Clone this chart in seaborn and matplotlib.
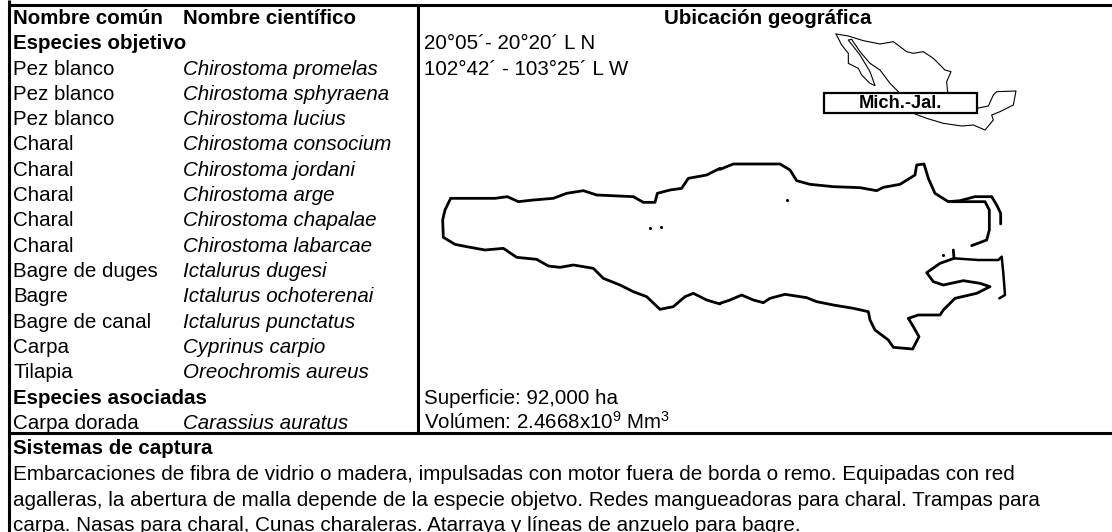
import matplotlib
matplotlib.use("Agg")
import matplotlib.pyplot as plt
from matplotlib.patches import Rectangle
import seaborn as sns

sns.set_theme(style="white")
plt.rcParams["font.family"] = ["Liberation Sans", "DejaVu Sans"]
plt.rcParams["mathtext.default"] = "regular"
plt.rcParams["text.color"] = "black"

common_names = ["Pez blanco", "Pez blanco", "Pez blanco", "Charal", "Charal", "Charal", "Charal", "Charal",
                "Bagre de duges", "Bagre", "Bagre de canal", "Carpa", "Tilapia"]
scientific_names = ["Chirostoma promelas", "Chirostoma sphyraena", "Chirostoma lucius", "Chirostoma consocium",
                    "Chirostoma jordani", "Chirostoma arge", "Chirostoma chapalae", "Chirostoma labarcae",
                    "Ictalurus dugesi", "Ictalurus ochoterenai", "Ictalurus punctatus", "Cyprinus carpio",
                    "Oreochromis aureus"]
assoc_common = ["Carpa dorada"]
assoc_scientific = ["Carassius auratus"]
capture_lines = ["Embarcaciones de fibra de vidrio o madera, impulsadas con motor fuera de borda o remo. Equipadas con red",
                 "agalleras, la abertura de malla depende de la especie objetvo. Redes mangueadoras para charal. Trampas para",
                 "carpa. Nasas para charal, Cunas charaleras. Atarraya y líneas de anzuelo para bagre."]

# Lake outline (pixel coordinates of the map)
z1_upper = [(92,145),(140,145),(225,145),(262,140),(295,155),(340,150),(400,145),(440,130),(490,122),(530,135),
            (640,140),(670,157),(705,157),(712,130),(750,120),(785,115),(805,85),(860,75),(900,55)]
z2_upper = [(0,58),(40,42),(130,42),(180,42),(210,60),(230,92),(270,103),(340,110),(420,113),(470,122),(490,112),
            (540,103),(585,75),(590,45),(612,42),(625,85),(645,130),(685,155),(720,152),(765,140),(815,140),
            (830,165),(842,190),(842,222)]
z2_branch = [(685,155),(795,155),(808,180),(808,240),(800,270),(755,287)]
z2_lower = [(700,300),(702,325),(660,340),(620,368),(640,395),(670,405),(730,392),(780,400),(810,410),(770,430),
            (705,445),(670,480),(660,495),(595,495),(565,505),(580,530),(597,560),(578,597),(520,592),(505,570),
            (465,540),(450,510),(445,485),(400,475),(340,465),(290,455),(260,443),(195,433),(150,445),(130,458),
            (100,450),(65,435),(30,450),(0,460)]
z2_right = [(702,325),(775,330),(835,330),(845,320),(850,370),(855,435),(838,445)]
z1_lower = [(900,462),(860,450),(820,430),(795,440),(760,470),(720,478),(680,440),(640,425),(600,405),(550,385),
            (520,355),(460,345),(420,352),(385,348),(350,328),(290,322),(250,295),(195,300),(140,290),(105,283),
            (70,262),(68,210),(75,180),(92,145)]
z1_specks = [(690,235),(722,232)]
z2_specks = [(200,150),(670,315)]

# Inset map of Mexico
mx_north = [(168,42),(205,48),(250,62),(300,72),(340,65),(380,95),(400,100),(430,95),(460,115),(495,150),(513,155),
            (500,185),(503,218)]
mx_south = [(590,265),(625,258),(640,225),(650,215),(708,213),(700,255),(660,275),(635,285),(640,300),(615,330),
            (580,315),(545,318),(490,310),(440,295),(405,282)]
mx_baja = [(168,42),(185,75),(205,100),(205,130),(235,145),(245,165),(270,190),(285,197),(270,155),(240,105),
           (205,60),(215,58),(240,95),(270,130),(300,150),(330,190),(358,218)]


def conv1(p):
    return [420 + x / 3 for x, _ in p], [150 + y / 3 for _, y in p]


def conv2(p):
    return [720 + x / 3 for x, _ in p], [150 + y / 3 for _, y in p]


def conv3(p):
    return [780 + x / 3 for x, _ in p], [20 + y / 3 for _, y in p]


fig = plt.figure(figsize=(11.12, 5.32), dpi=100)
ax = fig.add_axes([0, 0, 1, 1])
ax.set_xlim(0, 1112)
ax.set_ylim(532, 0)
ax.axis("off")

FS = 14.8
COL1, COL2, COL3 = 13, 183, 424
ROW0, DY = 24, 25.3


def row(i):
    return ROW0 + DY * i


def t(x, i, s, **kw):
    ax.text(x, row(i), s, fontsize=FS, va="baseline", color="black", **kw)


t(COL1, 0, "Nombre común", fontweight="bold")
t(COL2, 0, "Nombre científico", fontweight="bold")
ax.text(768, row(0), "Ubicación geográfica", fontsize=FS, fontweight="bold", ha="center", va="baseline", color="black")
t(COL1, 1, "Especies objetivo", fontweight="bold")
for k, (c, s) in enumerate(zip(common_names, scientific_names)):
    t(COL1, 2 + k, c)
    t(COL2, 2 + k, s, fontstyle="italic")
t(COL1, 15, "Especies asociadas", fontweight="bold")
t(COL1, 16, assoc_common[0])
t(COL2, 16, assoc_scientific[0], fontstyle="italic")

t(COL3, 1, "20°05´- 20°20´ L N")
t(COL3, 2, "102°42´ - 103°25´ L W")
t(COL3, 15, "Superficie: 92,000 ha")
t(COL3, 16, "Volúmen: 2.4668x10$^9$ Mm$^3$")

ax.text(COL1, 454, "Sistemas de captura", fontsize=FS, fontweight="bold", va="baseline", color="black")
for k, line in enumerate(capture_lines):
    ax.text(COL1, 480 + 25.6 * k, line, fontsize=14.88, va="baseline", color="black")

# Frame and rules
for xs, ys in [((8.5, 8.5), (0, 532)), ((8.5, 1112), (4.7, 4.7)), ((8.5, 1112), (433, 433)),
               ((417.5, 417.5), (4.7, 433))]:
    ax.plot(xs, ys, color="black", lw=2.2, solid_capstyle="butt", zorder=3)

# Lake
for pts, conv, lw in [(z1_upper, conv1, 2.0), (z2_upper, conv2, 2.0), (z2_branch, conv2, 2.0), (z2_lower, conv2, 2.0),
                      (z2_right, conv2, 1.8), (z1_lower, conv1, 2.0)]:
    xs, ys = conv(pts)
    sns.lineplot(x=xs, y=ys, sort=False, estimator=None, color="black", lw=lw, ax=ax, legend=False)
for pts, conv in [(z1_specks, conv1), (z2_specks, conv2)]:
    xs, ys = conv(pts)
    sns.scatterplot(x=xs, y=ys, color="black", s=5, ax=ax, legend=False, linewidth=0)

# Inset
for pts in (mx_north, mx_south, mx_baja):
    xs, ys = conv3(pts)
    sns.lineplot(x=xs, y=ys, sort=False, estimator=None, color="black", lw=0.8, ax=ax, legend=False)
ax.add_patch(Rectangle((823.5, 93), 153, 20, facecolor="white", edgecolor="black", lw=1.6, zorder=4))
ax.text(900, 103.5, "Mich.-Jal.", fontsize=13.2, fontweight="bold", ha="center", va="center", color="black", zorder=5)

ax.set_xlim(0, 1112)
ax.set_ylim(532, 0)
fig.savefig("out.png", dpi=100, facecolor="white")
